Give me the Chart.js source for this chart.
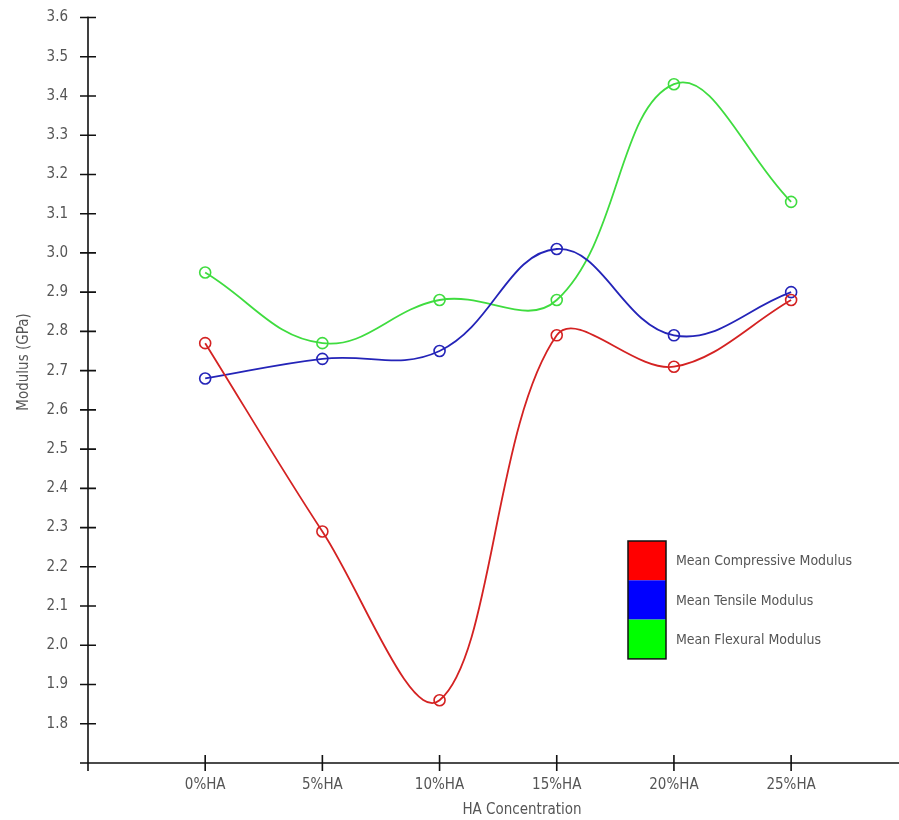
<!DOCTYPE html>
<html>
<head>
<meta charset="utf-8">
<script src="https://cdn.jsdelivr.net/npm/chart.js@4/dist/chart.umd.min.js"></script>
<style>
  html, body { margin: 0; padding: 0; background: #ffffff; }
  #wrap { width: 899px; height: 820px; position: relative; }
</style>
</head>
<body>
<div id="wrap"><canvas id="c"></canvas></div>
<script>
// HA concentration groups on the horizontal axis
const categories = ['0%HA', '5%HA', '10%HA', '15%HA', '20%HA', '25%HA'];

// Modulus values (GPa) for each group
const compressive = [2.77, 2.29, 1.86, 2.79, 2.71, 2.88];
const tensile     = [2.68, 2.73, 2.75, 3.01, 2.79, 2.90];
const flexural    = [2.95, 2.77, 2.88, 2.88, 3.43, 3.13];

const seriesNames = ['Mean Compressive Modulus', 'Mean Tensile Modulus', 'Mean Flexural Modulus'];
const yTicks = [1.8, 1.9, 2.0, 2.1, 2.2, 2.3, 2.4, 2.5, 2.6, 2.7, 2.8, 2.9, 3.0, 3.1, 3.2, 3.3, 3.4, 3.5, 3.6];

const lineColors = ['#d42222', '#2424b8', '#3fdc3f'];
const swatchColors = ['#ff0000', '#0000ff', '#00ff00'];
const FONT = '"Liberation Sans Narrow", "DejaVu Sans Condensed", sans-serif';
const TEXT = '#555555';

function toPoints(values) {
  return values.map((v, i) => ({ x: i + 1, y: v }));
}

function makeSet(label, values, color, tension) {
  return {
    label: label,
    data: toPoints(values),
    borderColor: color,
    borderWidth: 1.8,
    tension: tension,
    fill: false,
    pointRadius: 5.5,
    pointHoverRadius: 5.5,
    pointBorderWidth: 1.6,
    pointBorderColor: color,
    pointBackgroundColor: 'rgba(0,0,0,0)',
    clip: false
  };
}

// Axis lines, crossing ticks, titles and the stacked legend box
const decorations = {
  id: 'decorations',
  afterDraw(chart) {
    const ctx = chart.ctx;
    const xs = chart.scales.x;
    const ys = chart.scales.y;
    const x0 = xs.getPixelForValue(0);
    const yBase = ys.getPixelForValue(1.7);
    const yTop = ys.getPixelForValue(3.6);

    ctx.save();
    ctx.strokeStyle = '#111111';
    ctx.lineWidth = 1.6;
    ctx.beginPath();
    // vertical axis
    ctx.moveTo(x0, yTop - 1);
    ctx.lineTo(x0, yBase + 8);
    // horizontal axis
    ctx.moveTo(x0 - 8, yBase);
    ctx.lineTo(chart.width, yBase);
    // y ticks crossing the axis
    yTicks.forEach(t => {
      const py = ys.getPixelForValue(t);
      ctx.moveTo(x0 - 8, py);
      ctx.lineTo(x0 + 8, py);
    });
    // x ticks crossing the axis
    categories.forEach((c, i) => {
      const px = xs.getPixelForValue(i + 1);
      ctx.moveTo(px, yBase - 8);
      ctx.lineTo(px, yBase + 8);
    });
    ctx.stroke();

    // axis titles
    ctx.fillStyle = TEXT;
    ctx.font = '15px ' + FONT;
    ctx.textAlign = 'center';
    ctx.textBaseline = 'middle';
    ctx.fillText('HA Concentration', 522, 810);
    ctx.save();
    ctx.translate(24, 362);
    ctx.rotate(-Math.PI / 2);
    ctx.fillText('Modulus (GPa)', 0, 0);
    ctx.restore();

    // legend
    const lx = 628, ly = 541, lw = 38, lh = 39.3;
    chart.data.datasets.forEach((ds, i) => {
      ctx.fillStyle = swatchColors[i];
      ctx.fillRect(lx, ly + i * lh, lw, lh);
      ctx.fillStyle = TEXT;
      ctx.textAlign = 'left';
      ctx.font = '14px ' + FONT;
      ctx.fillText(ds.label, 676, ly + i * lh + lh / 2 + 1);
    });
    ctx.strokeStyle = '#111111';
    ctx.lineWidth = 1.5;
    ctx.strokeRect(lx, ly, lw, lh * 3);
    ctx.restore();
  }
};

new Chart(document.getElementById('c'), {
  type: 'line',
  data: {
    datasets: [
      makeSet(seriesNames[0], compressive, lineColors[0], 0.35),
      makeSet(seriesNames[1], tensile, lineColors[1], 0.4),
      makeSet(seriesNames[2], flexural, lineColors[2], 0.4)
    ]
  },
  options: {
    responsive: true,
    maintainAspectRatio: false,
    animation: false,
    events: [],
    layout: { padding: { top: 17.5, right: 0, bottom: 0, left: 0 } },
    plugins: {
      legend: { display: false },
      tooltip: { enabled: false }
    },
    scales: {
      x: {
        type: 'linear',
        min: 0,
        max: 6.86,
        grid: { display: false },
        border: { display: false },
        afterFit(scale) { scale.height = 57; },
        afterBuildTicks(scale) {
          scale.ticks = categories.map((c, i) => ({ value: i + 1 }));
        },
        ticks: {
          autoSkip: false,
          maxRotation: 0,
          padding: 5,
          color: TEXT,
          font: { family: FONT, size: 15 },
          callback(v) { return categories[v - 1] || ''; }
        }
      },
      y: {
        type: 'linear',
        min: 1.7,
        max: 3.6,
        grid: { display: false },
        border: { display: false },
        afterFit(scale) {
          scale.width = 88;
          scale.paddingTop = 0;
          scale.paddingBottom = 0;
        },
        afterBuildTicks(scale) {
          scale.ticks = yTicks.map(t => ({ value: t }));
        },
        ticks: {
          padding: 12,
          color: TEXT,
          font: { family: FONT, size: 15 },
          callback(v) { return v.toFixed(1); }
        }
      }
    }
  },
  plugins: [decorations]
});
</script>
</body>
</html>
